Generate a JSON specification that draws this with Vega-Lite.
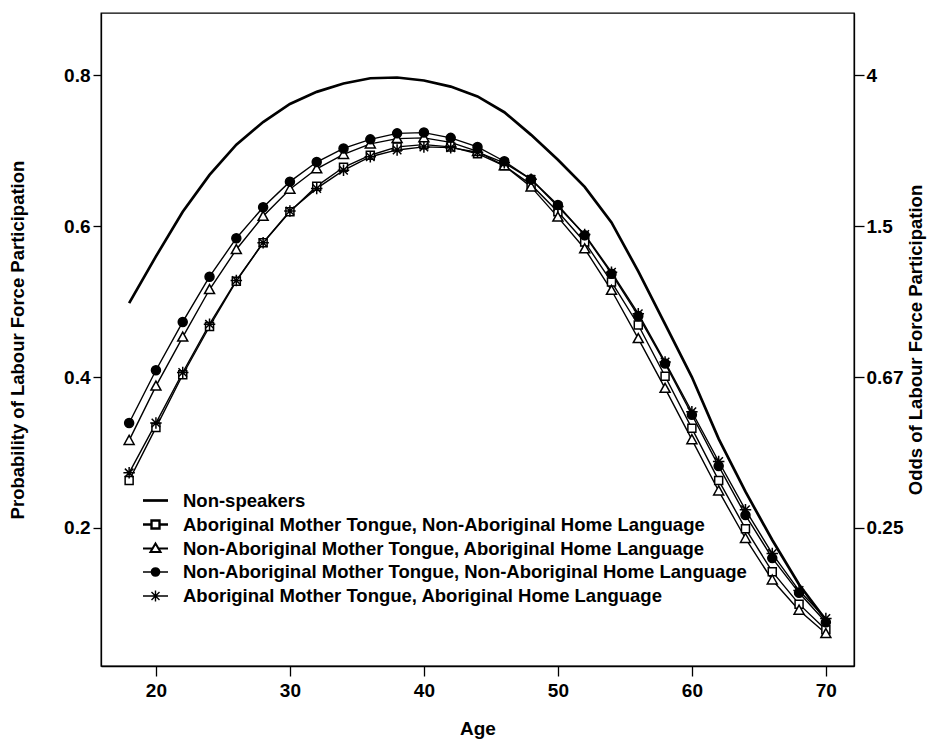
{
  "$schema": "https://vega.github.io/schema/vega-lite/v6.json",
  "autosize": {"type": "none"},
  "padding": {"left": 101, "top": 13, "right": 74, "bottom": 73},
  "width": 753,
  "height": 653,
  "background": "white",
  "config": {
    "font": "Liberation Sans",
    "view": {"stroke": "black", "strokeWidth": 1.3},
    "axis": {
      "grid": false,
      "domainColor": "black",
      "domainWidth": 1.3,
      "tickColor": "black",
      "tickWidth": 1.3,
      "labelColor": "black",
      "titleColor": "black",
      "labelFont": "Liberation Sans",
      "titleFont": "Liberation Sans",
      "labelFontWeight": "bold",
      "titleFontWeight": "bold",
      "labelFontSize": 19,
      "titleFontSize": 18.5
    },
    "legend": {
      "orient": "none",
      "legendX": 43,
      "legendY": 476,
      "title": null,
      "symbolSize": 400,
      "symbolOpacity": 1,
      "labelFont": "Liberation Sans",
      "labelFontWeight": "bold",
      "labelFontSize": 18.5,
      "labelColor": "black",
      "labelOffset": 16,
      "labelLimit": 700,
      "rowPadding": 3
    }
  },
  "data": {
    "values": [
      {"series": "Non-speakers", "age": 18, "p": 0.498},
      {"series": "Non-speakers", "age": 20, "p": 0.560},
      {"series": "Non-speakers", "age": 22, "p": 0.619},
      {"series": "Non-speakers", "age": 24, "p": 0.668},
      {"series": "Non-speakers", "age": 26, "p": 0.708},
      {"series": "Non-speakers", "age": 28, "p": 0.738},
      {"series": "Non-speakers", "age": 30, "p": 0.762},
      {"series": "Non-speakers", "age": 32, "p": 0.778},
      {"series": "Non-speakers", "age": 34, "p": 0.789},
      {"series": "Non-speakers", "age": 36, "p": 0.796},
      {"series": "Non-speakers", "age": 38, "p": 0.797},
      {"series": "Non-speakers", "age": 40, "p": 0.793},
      {"series": "Non-speakers", "age": 42, "p": 0.785},
      {"series": "Non-speakers", "age": 44, "p": 0.772},
      {"series": "Non-speakers", "age": 46, "p": 0.751},
      {"series": "Non-speakers", "age": 48, "p": 0.721},
      {"series": "Non-speakers", "age": 50, "p": 0.688},
      {"series": "Non-speakers", "age": 52, "p": 0.652},
      {"series": "Non-speakers", "age": 54, "p": 0.605},
      {"series": "Non-speakers", "age": 56, "p": 0.540},
      {"series": "Non-speakers", "age": 58, "p": 0.470},
      {"series": "Non-speakers", "age": 60, "p": 0.400},
      {"series": "Non-speakers", "age": 62, "p": 0.318},
      {"series": "Non-speakers", "age": 64, "p": 0.248},
      {"series": "Non-speakers", "age": 66, "p": 0.184},
      {"series": "Non-speakers", "age": 68, "p": 0.125},
      {"series": "Non-speakers", "age": 70, "p": 0.078},

      {"series": "Aboriginal Mother Tongue, Non-Aboriginal Home Language", "age": 18, "p": 0.263},
      {"series": "Aboriginal Mother Tongue, Non-Aboriginal Home Language", "age": 20, "p": 0.333},
      {"series": "Aboriginal Mother Tongue, Non-Aboriginal Home Language", "age": 22, "p": 0.403},
      {"series": "Aboriginal Mother Tongue, Non-Aboriginal Home Language", "age": 24, "p": 0.467},
      {"series": "Aboriginal Mother Tongue, Non-Aboriginal Home Language", "age": 26, "p": 0.527},
      {"series": "Aboriginal Mother Tongue, Non-Aboriginal Home Language", "age": 28, "p": 0.578},
      {"series": "Aboriginal Mother Tongue, Non-Aboriginal Home Language", "age": 30, "p": 0.619},
      {"series": "Aboriginal Mother Tongue, Non-Aboriginal Home Language", "age": 32, "p": 0.653},
      {"series": "Aboriginal Mother Tongue, Non-Aboriginal Home Language", "age": 34, "p": 0.678},
      {"series": "Aboriginal Mother Tongue, Non-Aboriginal Home Language", "age": 36, "p": 0.694},
      {"series": "Aboriginal Mother Tongue, Non-Aboriginal Home Language", "age": 38, "p": 0.705},
      {"series": "Aboriginal Mother Tongue, Non-Aboriginal Home Language", "age": 40, "p": 0.708},
      {"series": "Aboriginal Mother Tongue, Non-Aboriginal Home Language", "age": 42, "p": 0.705},
      {"series": "Aboriginal Mother Tongue, Non-Aboriginal Home Language", "age": 44, "p": 0.696},
      {"series": "Aboriginal Mother Tongue, Non-Aboriginal Home Language", "age": 46, "p": 0.680},
      {"series": "Aboriginal Mother Tongue, Non-Aboriginal Home Language", "age": 48, "p": 0.655},
      {"series": "Aboriginal Mother Tongue, Non-Aboriginal Home Language", "age": 50, "p": 0.619},
      {"series": "Aboriginal Mother Tongue, Non-Aboriginal Home Language", "age": 52, "p": 0.579},
      {"series": "Aboriginal Mother Tongue, Non-Aboriginal Home Language", "age": 54, "p": 0.526},
      {"series": "Aboriginal Mother Tongue, Non-Aboriginal Home Language", "age": 56, "p": 0.469},
      {"series": "Aboriginal Mother Tongue, Non-Aboriginal Home Language", "age": 58, "p": 0.401},
      {"series": "Aboriginal Mother Tongue, Non-Aboriginal Home Language", "age": 60, "p": 0.332},
      {"series": "Aboriginal Mother Tongue, Non-Aboriginal Home Language", "age": 62, "p": 0.263},
      {"series": "Aboriginal Mother Tongue, Non-Aboriginal Home Language", "age": 64, "p": 0.199},
      {"series": "Aboriginal Mother Tongue, Non-Aboriginal Home Language", "age": 66, "p": 0.142},
      {"series": "Aboriginal Mother Tongue, Non-Aboriginal Home Language", "age": 68, "p": 0.099},
      {"series": "Aboriginal Mother Tongue, Non-Aboriginal Home Language", "age": 70, "p": 0.065},

      {"series": "Non-Aboriginal Mother Tongue, Aboriginal Home Language", "age": 18, "p": 0.316},
      {"series": "Non-Aboriginal Mother Tongue, Aboriginal Home Language", "age": 20, "p": 0.388},
      {"series": "Non-Aboriginal Mother Tongue, Aboriginal Home Language", "age": 22, "p": 0.453},
      {"series": "Non-Aboriginal Mother Tongue, Aboriginal Home Language", "age": 24, "p": 0.516},
      {"series": "Non-Aboriginal Mother Tongue, Aboriginal Home Language", "age": 26, "p": 0.569},
      {"series": "Non-Aboriginal Mother Tongue, Aboriginal Home Language", "age": 28, "p": 0.613},
      {"series": "Non-Aboriginal Mother Tongue, Aboriginal Home Language", "age": 30, "p": 0.649},
      {"series": "Non-Aboriginal Mother Tongue, Aboriginal Home Language", "age": 32, "p": 0.676},
      {"series": "Non-Aboriginal Mother Tongue, Aboriginal Home Language", "age": 34, "p": 0.695},
      {"series": "Non-Aboriginal Mother Tongue, Aboriginal Home Language", "age": 36, "p": 0.709},
      {"series": "Non-Aboriginal Mother Tongue, Aboriginal Home Language", "age": 38, "p": 0.716},
      {"series": "Non-Aboriginal Mother Tongue, Aboriginal Home Language", "age": 40, "p": 0.717},
      {"series": "Non-Aboriginal Mother Tongue, Aboriginal Home Language", "age": 42, "p": 0.711},
      {"series": "Non-Aboriginal Mother Tongue, Aboriginal Home Language", "age": 44, "p": 0.699},
      {"series": "Non-Aboriginal Mother Tongue, Aboriginal Home Language", "age": 46, "p": 0.680},
      {"series": "Non-Aboriginal Mother Tongue, Aboriginal Home Language", "age": 48, "p": 0.652},
      {"series": "Non-Aboriginal Mother Tongue, Aboriginal Home Language", "age": 50, "p": 0.612},
      {"series": "Non-Aboriginal Mother Tongue, Aboriginal Home Language", "age": 52, "p": 0.570},
      {"series": "Non-Aboriginal Mother Tongue, Aboriginal Home Language", "age": 54, "p": 0.515},
      {"series": "Non-Aboriginal Mother Tongue, Aboriginal Home Language", "age": 56, "p": 0.451},
      {"series": "Non-Aboriginal Mother Tongue, Aboriginal Home Language", "age": 58, "p": 0.385},
      {"series": "Non-Aboriginal Mother Tongue, Aboriginal Home Language", "age": 60, "p": 0.317},
      {"series": "Non-Aboriginal Mother Tongue, Aboriginal Home Language", "age": 62, "p": 0.249},
      {"series": "Non-Aboriginal Mother Tongue, Aboriginal Home Language", "age": 64, "p": 0.186},
      {"series": "Non-Aboriginal Mother Tongue, Aboriginal Home Language", "age": 66, "p": 0.131},
      {"series": "Non-Aboriginal Mother Tongue, Aboriginal Home Language", "age": 68, "p": 0.091},
      {"series": "Non-Aboriginal Mother Tongue, Aboriginal Home Language", "age": 70, "p": 0.060},

      {"series": "Non-Aboriginal Mother Tongue, Non-Aboriginal Home Language", "age": 18, "p": 0.339},
      {"series": "Non-Aboriginal Mother Tongue, Non-Aboriginal Home Language", "age": 20, "p": 0.409},
      {"series": "Non-Aboriginal Mother Tongue, Non-Aboriginal Home Language", "age": 22, "p": 0.473},
      {"series": "Non-Aboriginal Mother Tongue, Non-Aboriginal Home Language", "age": 24, "p": 0.533},
      {"series": "Non-Aboriginal Mother Tongue, Non-Aboriginal Home Language", "age": 26, "p": 0.584},
      {"series": "Non-Aboriginal Mother Tongue, Non-Aboriginal Home Language", "age": 28, "p": 0.625},
      {"series": "Non-Aboriginal Mother Tongue, Non-Aboriginal Home Language", "age": 30, "p": 0.659},
      {"series": "Non-Aboriginal Mother Tongue, Non-Aboriginal Home Language", "age": 32, "p": 0.685},
      {"series": "Non-Aboriginal Mother Tongue, Non-Aboriginal Home Language", "age": 34, "p": 0.703},
      {"series": "Non-Aboriginal Mother Tongue, Non-Aboriginal Home Language", "age": 36, "p": 0.715},
      {"series": "Non-Aboriginal Mother Tongue, Non-Aboriginal Home Language", "age": 38, "p": 0.723},
      {"series": "Non-Aboriginal Mother Tongue, Non-Aboriginal Home Language", "age": 40, "p": 0.724},
      {"series": "Non-Aboriginal Mother Tongue, Non-Aboriginal Home Language", "age": 42, "p": 0.717},
      {"series": "Non-Aboriginal Mother Tongue, Non-Aboriginal Home Language", "age": 44, "p": 0.705},
      {"series": "Non-Aboriginal Mother Tongue, Non-Aboriginal Home Language", "age": 46, "p": 0.686},
      {"series": "Non-Aboriginal Mother Tongue, Non-Aboriginal Home Language", "age": 48, "p": 0.662},
      {"series": "Non-Aboriginal Mother Tongue, Non-Aboriginal Home Language", "age": 50, "p": 0.628},
      {"series": "Non-Aboriginal Mother Tongue, Non-Aboriginal Home Language", "age": 52, "p": 0.588},
      {"series": "Non-Aboriginal Mother Tongue, Non-Aboriginal Home Language", "age": 54, "p": 0.537},
      {"series": "Non-Aboriginal Mother Tongue, Non-Aboriginal Home Language", "age": 56, "p": 0.481},
      {"series": "Non-Aboriginal Mother Tongue, Non-Aboriginal Home Language", "age": 58, "p": 0.418},
      {"series": "Non-Aboriginal Mother Tongue, Non-Aboriginal Home Language", "age": 60, "p": 0.350},
      {"series": "Non-Aboriginal Mother Tongue, Non-Aboriginal Home Language", "age": 62, "p": 0.282},
      {"series": "Non-Aboriginal Mother Tongue, Non-Aboriginal Home Language", "age": 64, "p": 0.217},
      {"series": "Non-Aboriginal Mother Tongue, Non-Aboriginal Home Language", "age": 66, "p": 0.160},
      {"series": "Non-Aboriginal Mother Tongue, Non-Aboriginal Home Language", "age": 68, "p": 0.114},
      {"series": "Non-Aboriginal Mother Tongue, Non-Aboriginal Home Language", "age": 70, "p": 0.075},

      {"series": "Aboriginal Mother Tongue, Aboriginal Home Language", "age": 18, "p": 0.273},
      {"series": "Aboriginal Mother Tongue, Aboriginal Home Language", "age": 20, "p": 0.339},
      {"series": "Aboriginal Mother Tongue, Aboriginal Home Language", "age": 22, "p": 0.406},
      {"series": "Aboriginal Mother Tongue, Aboriginal Home Language", "age": 24, "p": 0.470},
      {"series": "Aboriginal Mother Tongue, Aboriginal Home Language", "age": 26, "p": 0.528},
      {"series": "Aboriginal Mother Tongue, Aboriginal Home Language", "age": 28, "p": 0.578},
      {"series": "Aboriginal Mother Tongue, Aboriginal Home Language", "age": 30, "p": 0.620},
      {"series": "Aboriginal Mother Tongue, Aboriginal Home Language", "age": 32, "p": 0.650},
      {"series": "Aboriginal Mother Tongue, Aboriginal Home Language", "age": 34, "p": 0.674},
      {"series": "Aboriginal Mother Tongue, Aboriginal Home Language", "age": 36, "p": 0.692},
      {"series": "Aboriginal Mother Tongue, Aboriginal Home Language", "age": 38, "p": 0.701},
      {"series": "Aboriginal Mother Tongue, Aboriginal Home Language", "age": 40, "p": 0.705},
      {"series": "Aboriginal Mother Tongue, Aboriginal Home Language", "age": 42, "p": 0.704},
      {"series": "Aboriginal Mother Tongue, Aboriginal Home Language", "age": 44, "p": 0.698},
      {"series": "Aboriginal Mother Tongue, Aboriginal Home Language", "age": 46, "p": 0.684},
      {"series": "Aboriginal Mother Tongue, Aboriginal Home Language", "age": 48, "p": 0.662},
      {"series": "Aboriginal Mother Tongue, Aboriginal Home Language", "age": 50, "p": 0.626},
      {"series": "Aboriginal Mother Tongue, Aboriginal Home Language", "age": 52, "p": 0.589},
      {"series": "Aboriginal Mother Tongue, Aboriginal Home Language", "age": 54, "p": 0.539},
      {"series": "Aboriginal Mother Tongue, Aboriginal Home Language", "age": 56, "p": 0.484},
      {"series": "Aboriginal Mother Tongue, Aboriginal Home Language", "age": 58, "p": 0.420},
      {"series": "Aboriginal Mother Tongue, Aboriginal Home Language", "age": 60, "p": 0.354},
      {"series": "Aboriginal Mother Tongue, Aboriginal Home Language", "age": 62, "p": 0.288},
      {"series": "Aboriginal Mother Tongue, Aboriginal Home Language", "age": 64, "p": 0.224},
      {"series": "Aboriginal Mother Tongue, Aboriginal Home Language", "age": 66, "p": 0.166},
      {"series": "Aboriginal Mother Tongue, Aboriginal Home Language", "age": 68, "p": 0.117},
      {"series": "Aboriginal Mother Tongue, Aboriginal Home Language", "age": 70, "p": 0.080}
    ]
  },
  "encoding": {
    "x": {
      "field": "age",
      "type": "quantitative",
      "scale": {"domain": [15.9, 72.1], "nice": false, "zero": false},
      "axis": {
        "values": [20, 30, 40, 50, 60, 70],
        "tickSize": 10,
        "labelPadding": 5,
        "title": "Age",
        "titleFontSize": 19,
        "titlePadding": 19
      }
    }
  },
  "layer": [
    {
      "transform": [{"filter": "datum.series === 'Non-speakers'"}],
      "mark": {"type": "line", "color": "black", "strokeWidth": 2.7, "interpolate": "linear"},
      "encoding": {
        "y": {
          "field": "p",
          "type": "quantitative",
          "scale": {"domain": [0.017, 0.8825], "nice": false, "zero": false},
          "axis": {
            "orient": "left",
            "values": [0.2, 0.4, 0.6, 0.8],
            "format": ".1f",
            "tickSize": 8,
            "labelPadding": 3,
            "title": "Probability of Labour Force Participation",
            "titlePadding": 36
          }
        }
      }
    },
    {
      "transform": [{"filter": "datum.series !== 'Non-speakers'"}],
      "mark": {"type": "line", "color": "black", "strokeWidth": 1.4, "interpolate": "linear"},
      "encoding": {
        "y": {"field": "p", "type": "quantitative", "axis": null},
        "detail": {"field": "series", "type": "nominal"}
      }
    },
    {
      "transform": [{"filter": "datum.series !== 'Non-speakers'"}],
      "mark": {"type": "point", "opacity": 1, "size": 100, "strokeWidth": 1.5, "stroke": "black"},
      "encoding": {
        "y": {
          "field": "p",
          "type": "quantitative",
          "axis": {
            "orient": "right",
            "values": [0.2, 0.4, 0.6, 0.8],
            "labelExpr": "datum.value > 0.7 ? '4' : datum.value > 0.5 ? '1.5' : datum.value > 0.3 ? '0.67' : '0.25'",
            "tickSize": 10,
            "labelPadding": 2,
            "title": "Odds of Labour Force Participation",
            "titleAngle": 270,
            "titleBaseline": "top",
            "titlePadding": 4
          }
        },
        "fill": {
          "field": "series",
          "type": "nominal",
          "scale": {
            "domain": [
              "Aboriginal Mother Tongue, Non-Aboriginal Home Language",
              "Non-Aboriginal Mother Tongue, Aboriginal Home Language",
              "Non-Aboriginal Mother Tongue, Non-Aboriginal Home Language",
              "Aboriginal Mother Tongue, Aboriginal Home Language"
            ],
            "range": ["white", "white", "black", "white"]
          },
          "legend": null
        },
        "shape": {
          "field": "series",
          "type": "nominal",
          "scale": {
            "domain": [
              "Aboriginal Mother Tongue, Non-Aboriginal Home Language",
              "Non-Aboriginal Mother Tongue, Aboriginal Home Language",
              "Non-Aboriginal Mother Tongue, Non-Aboriginal Home Language",
              "Aboriginal Mother Tongue, Aboriginal Home Language"
            ],
            "range": [
              "M-0.8,-0.8H0.8V0.8H-0.8Z",
              "M0,-1L1,0.8H-1Z",
              "M-0.9,0A0.9,0.9,0,1,1,0.9,0A0.9,0.9,0,1,1,-0.9,0Z",
              "M-1.15,0H1.15M0,-1.15V1.15M-0.85,-0.85L0.85,0.85M-0.85,0.85L0.85,-0.85"
            ]
          },
          "legend": null
        }
      }
    },
    {
      "mark": {"type": "point", "opacity": 0, "size": 1, "stroke": "black"},
      "encoding": {
        "y": {"field": "p", "type": "quantitative", "axis": null},
        "shape": {
          "field": "series",
          "type": "nominal",
          "scale": {
            "domain": [
              "Non-speakers",
              "Aboriginal Mother Tongue, Non-Aboriginal Home Language",
              "Non-Aboriginal Mother Tongue, Aboriginal Home Language",
              "Non-Aboriginal Mother Tongue, Non-Aboriginal Home Language",
              "Aboriginal Mother Tongue, Aboriginal Home Language"
            ],
            "range": [
              "M-1.25,0H1.25",
              "M-1.25,0H-0.4M0.4,0H1.25M-0.4,-0.4H0.4V0.4H-0.4Z",
              "M-1.25,0H-0.3M0.3,0H1.25M0,-0.5L0.5,0.35H-0.5Z",
              "M-1.25,0H-0.4M0.4,0H1.25M-0.4,0A0.4,0.4,0,1,1,0.4,0A0.4,0.4,0,1,1,-0.4,0Z",
              "M-1.25,0H1.25M0,-0.55V0.55M-0.4,-0.4L0.4,0.4M-0.4,0.4L0.4,-0.4"
            ]
          }
        },
        "fill": {
          "field": "series",
          "type": "nominal",
          "scale": {
            "domain": [
              "Non-speakers",
              "Aboriginal Mother Tongue, Non-Aboriginal Home Language",
              "Non-Aboriginal Mother Tongue, Aboriginal Home Language",
              "Non-Aboriginal Mother Tongue, Non-Aboriginal Home Language",
              "Aboriginal Mother Tongue, Aboriginal Home Language"
            ],
            "range": ["transparent", "white", "white", "black", "transparent"]
          }
        },
        "strokeWidth": {
          "field": "series",
          "type": "nominal",
          "scale": {
            "domain": [
              "Non-speakers",
              "Aboriginal Mother Tongue, Non-Aboriginal Home Language",
              "Non-Aboriginal Mother Tongue, Aboriginal Home Language",
              "Non-Aboriginal Mother Tongue, Non-Aboriginal Home Language",
              "Aboriginal Mother Tongue, Aboriginal Home Language"
            ],
            "range": [2.7, 1.4, 1.4, 1.4, 1.4]
          }
        }
      }
    }
  ],
  "resolve": {
    "axis": {"y": "independent"},
    "scale": {"shape": "independent", "fill": "independent", "strokeWidth": "independent"}
  }
}
